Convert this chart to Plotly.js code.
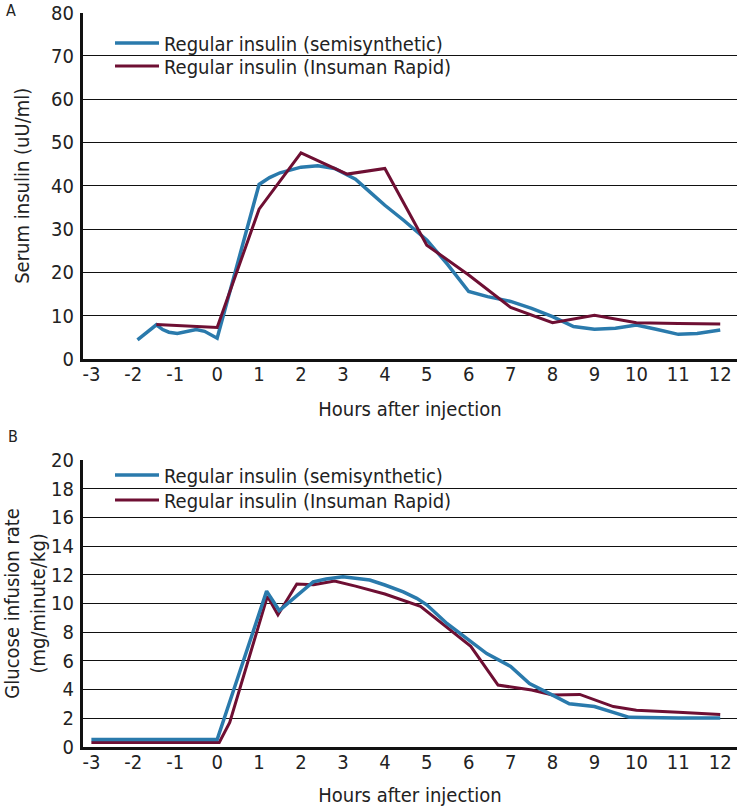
<!DOCTYPE html>
<html>
<head>
<meta charset="utf-8">
<script src="https://cdn.plot.ly/plotly-3.0.1.min.js"></script>
<style>
  html, body { margin: 0; padding: 0; background: #fff; }
  #chart { width: 740px; height: 807px; }
</style>
</head>
<body>
<div id="chart"></div>
<script>
// Panel A: serum insulin (uU/ml)
const semiA_x = [-1.9, -1.45, -1.3, -1.15, -0.95, -0.7, -0.5, -0.3, -0.15, 0, 1, 1.25, 1.5, 2, 2.4, 2.8, 3, 3.3, 3.64, 4,
                 4.44, 5, 5.5, 6, 6.45, 7, 7.5, 8, 8.5, 9, 9.5, 10, 10.5, 11, 11.45, 12];
const semiA_y = [4.4, 7.9, 6.8, 6.2, 5.9, 6.3, 6.8, 6.4, 5.5, 4.8, 40.3, 41.9, 43.0, 44.3, 44.6, 44.0, 43.0, 41.5, 38.6, 35.5,
                 32.1, 27.5, 21.8, 15.6, 14.4, 13.3, 11.7, 9.8, 7.5, 6.9, 7.1, 7.85, 6.8, 5.7, 5.9, 6.7];
const rapidA_x = [-1.45, 0, 1, 2, 3.1, 4, 5, 6, 7, 8, 9, 10, 11, 12];
const rapidA_y = [8.0, 7.3, 34.6, 47.6, 42.7, 44.0, 26.3, 19.4, 11.9, 8.4, 10.1, 8.4, 8.2, 8.1];

// Panel B: glucose infusion rate (mg/minute/kg)
const semiB_x = [-3, 0, 1.18, 1.48, 2.29, 2.6, 3, 3.64, 4, 4.44, 4.76, 5, 5.48, 5.95, 6.43, 7, 7.45, 8, 8.4, 9, 9.36, 9.83, 11, 12];
const semiB_y = [0.5, 0.5, 10.85, 9.5, 11.5, 11.7, 11.85, 11.63, 11.28, 10.8, 10.35, 9.9, 8.6, 7.55, 6.5, 5.6, 4.4, 3.6, 3.0, 2.8, 2.45, 2.05, 2.0, 2.0];
const rapidB_x = [-3, 0.05, 0.3, 1.2, 1.45, 1.9, 2.3, 2.8, 3.3, 3.65, 4, 4.85, 6.05, 6.7, 7.5, 8, 8.65, 9.45, 10, 11, 12];
const rapidB_y = [0.3, 0.3, 1.7, 10.5, 9.2, 11.35, 11.3, 11.55, 11.2, 10.9, 10.65, 9.8, 7.0, 4.3, 3.95, 3.6, 3.65, 2.8, 2.55, 2.4, 2.25];

const xTicks = [-3, -2, -1, 0, 1, 2, 3, 4, 5, 6, 7, 8, 9, 10, 11, 12];
const xTickText = xTicks.map(String);  // plain hyphen, not unicode minus

const NAME_SEMI = 'Regular insulin (semisynthetic)';
const NAME_RAPID = 'Regular insulin (Insuman Rapid)';
const BLUE = '#2a7aac';
const MAROON = '#6e0f33';
const FONT = '"DejaVu Sans Condensed", "Open Sans", sans-serif';
const FS = 20;

const traces = [
  { x: semiA_x, y: semiA_y, name: NAME_SEMI, xaxis: 'x', yaxis: 'y', mode: 'lines',
    line: { color: BLUE, width: 3.5 }, legend: 'legend' },
  { x: rapidA_x, y: rapidA_y, name: NAME_RAPID, xaxis: 'x', yaxis: 'y', mode: 'lines',
    line: { color: MAROON, width: 3 }, legend: 'legend2' },
  { x: rapidB_x, y: rapidB_y, name: NAME_RAPID, xaxis: 'x2', yaxis: 'y2', mode: 'lines',
    line: { color: MAROON, width: 3 }, legend: 'legend4' },
  { x: semiB_x, y: semiB_y, name: NAME_SEMI, xaxis: 'x2', yaxis: 'y2', mode: 'lines',
    line: { color: BLUE, width: 3.5 }, legend: 'legend3' }
];

const xBase = {
  range: [-3.2, 12.4],
  tickvals: xTicks, ticktext: xTickText,
  ticks: '', ticklabelstandoff: -5,
  showgrid: false, zeroline: false,
  showline: true, linecolor: '#111', linewidth: 3,
  tickfont: { size: FS, color: '#222' },
  title: { text: 'Hours after injection', font: { size: FS, color: '#222' }, standoff: 17 }
};
const yBase = {
  ticks: 'outside', ticklen: 2, tickcolor: 'rgba(0,0,0,0)',
  showgrid: true, gridcolor: '#111', gridwidth: 1,
  zeroline: false,
  showline: true, linecolor: '#111', linewidth: 3,
  tickfont: { size: FS, color: '#222' }
};
const legendBase = {
  font: { size: FS, color: '#222' },
  bgcolor: 'rgba(0,0,0,0)',
  itemwidth: 44,
  x: 0.0413, xanchor: 'left', yanchor: 'middle'
};

const layout = {
  width: 740, height: 807,
  margin: { l: 83, r: 3, t: 0, b: 0 },
  paper_bgcolor: '#fff', plot_bgcolor: '#fff',
  font: { family: FONT, color: '#222' },
  showlegend: true,
  xaxis: { ...xBase, anchor: 'y' },
  yaxis: { ...yBase, domain: [0.5551, 0.9845], range: [0, 80], dtick: 10, anchor: 'x',
    title: { text: 'Serum insulin (uU/ml)', font: { size: FS, color: '#222' }, standoff: 17 } },
  xaxis2: { ...xBase, anchor: 'y2' },
  yaxis2: { ...yBase, domain: [0.0747, 0.4300], range: [0, 20], dtick: 2, anchor: 'x2',
    title: { text: 'Glucose infusion rate<br>(mg/minute/kg)', font: { size: FS, color: '#222' }, standoff: 15 } },
  legend: { ...legendBase, y: 0.9467 },
  legend2: { ...legendBase, y: 0.9182 },
  legend3: { ...legendBase, y: 0.4114 },
  legend4: { ...legendBase, y: 0.3804 },
  annotations: [
    { text: 'A', xref: 'paper', yref: 'paper', x: -0.1207, y: 0.9865, xanchor: 'left', yanchor: 'middle',
      showarrow: false, font: { size: 16, color: '#222' } },
    { text: 'B', xref: 'paper', yref: 'paper', x: -0.1177, y: 0.4597, xanchor: 'left', yanchor: 'middle',
      showarrow: false, font: { size: 16, color: '#222' } }
  ]
};

Plotly.newPlot('chart', traces, layout, { staticPlot: true, displayModeBar: false });
</script>
</body>
</html>
